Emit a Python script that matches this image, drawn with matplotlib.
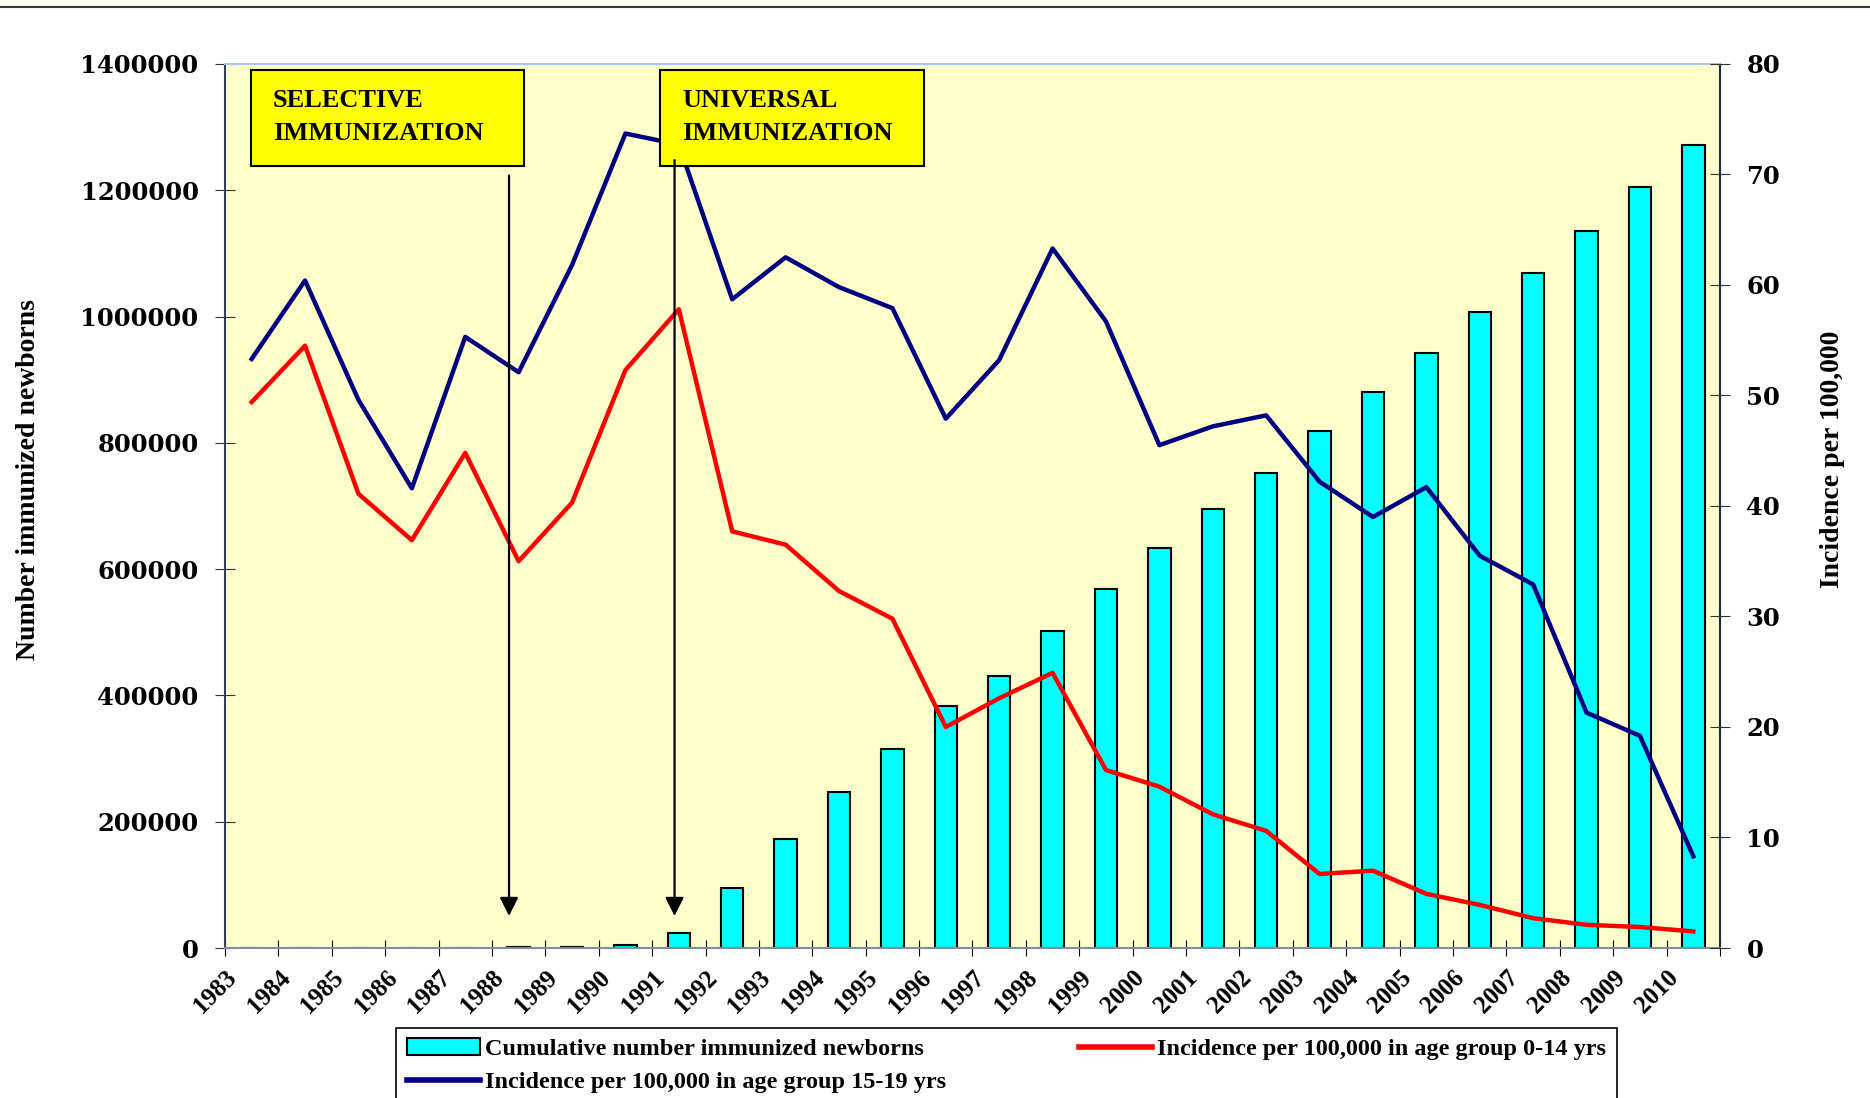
import numpy as np
import matplotlib.pyplot as plt
from matplotlib.lines import Line2D
from matplotlib.patches import Patch, Rectangle

years = list(range(1983, 2011))

# cumulative number of immunized newborns (left axis)
cumulative = [0, 0, 0, 0, 0, 2000, 2000, 5000, 24500, 94500, 172000, 247500,
              315500, 383500, 431000, 502500, 568700, 633000, 695000, 752000,
              818000, 880000, 943000, 1007000, 1069000, 1135000, 1205000, 1271000]

# incidence per 100,000 (right axis)
inc_0_14 = [49.4, 54.5, 41.1, 36.9, 44.8, 35.0, 40.3, 52.3, 57.8, 37.7, 36.5, 32.3,
            29.8, 20.0, 22.6, 24.9, 16.1, 14.6, 12.1, 10.6, 6.7, 7.0, 4.9, 3.9,
            2.7, 2.1, 1.9, 1.5]
inc_15_19 = [53.3, 60.4, 49.6, 41.6, 55.3, 52.1, 61.8, 73.7, 72.7, 58.7, 62.5, 59.8,
             57.9, 47.9, 53.2, 63.3, 56.7, 45.5, 47.2, 48.2, 42.2, 39.0, 41.7, 35.5,
             32.9, 21.3, 19.2, 8.3]

serif = 'Liberation Serif'
tickfont = 'DejaVu Serif'

fig = plt.figure(figsize=(18.7, 10.98), dpi=100)
fig.patches.append(Rectangle((0, 0.9936), 1, 0.0064, transform=fig.transFigure,
                             facecolor='#fbfbef', edgecolor='none'))
fig.add_artist(Line2D([0, 1], [0.9936, 0.9936], color='#333333', lw=1.5))

ax = fig.add_axes([0.1203, 0.1366, 0.7995, 0.8052])
ax.set_facecolor('#ffffcc')
x = np.arange(len(years)) + 0.5

ax.bar(x, cumulative, width=0.42, color='#00ffff', edgecolor='black', lw=1.5, zorder=2)
ax.set_xlim(0, len(years))
ax.set_ylim(0, 1400000)
ax.set_yticks(np.arange(0, 1400001, 200000))
ax.set_yticklabels([str(v) for v in range(0, 1400001, 200000)],
                   fontfamily=tickfont, fontweight='bold', fontsize=17.5)
ax.set_xticks(np.arange(len(years) + 1))
ax.set_xticklabels([str(y) for y in years] + [''], rotation=45, ha='right', va='top',
                   rotation_mode='anchor', fontfamily=serif, fontweight='bold', fontsize=18)
ax.tick_params(axis='x', direction='inout', length=12, pad=7, color='black')
ax.tick_params(axis='y', direction='inout', length=14, pad=12, color='#333333')
ax.set_ylabel('Number immunized newborns', fontfamily=serif, fontweight='bold',
              fontsize=20)
ax.yaxis.set_label_coords(-0.123, 0.53)

for side, c in [('left', '#2f4058'), ('bottom', '#7f8fa0'), ('top', '#a6caf0'), ('right', '#1a2a44')]:
    ax.spines[side].set_color(c)
    ax.spines[side].set_linewidth(1.5)

ax2 = ax.twinx()
ax2.set_xlim(0, len(years))
ax2.plot(x, inc_0_14, color='#ff0000', lw=3.2, zorder=3)
ax2.plot(x, inc_15_19, color='#000080', lw=3.2, zorder=3)
ax2.set_ylim(0, 80)
ax2.set_yticks(range(0, 81, 10))
ax2.set_yticklabels([str(v) for v in range(0, 81, 10)],
                    fontfamily=tickfont, fontweight='bold', fontsize=17.5)
ax2.tick_params(axis='y', direction='inout', length=14, pad=12, color='#333333')
ax2.set_ylabel('Incidence per 100,000', fontfamily=serif, fontweight='bold',
               fontsize=20)
ax2.yaxis.set_label_coords(1.067, 0.553)
for s in ax2.spines.values():
    s.set_visible(False)

# annotation boxes and arrows
box_kw = dict(fontfamily=serif, fontweight='bold', fontsize=19, va='top', ha='left',
              transform=ax2.transAxes, zorder=6, linespacing=1.55)
for (bx0, bx1), label in [((0.0176, 0.2003), 'SELECTIVE\nIMMUNIZATION'),
                          ((0.2913, 0.4677), 'UNIVERSAL\nIMMUNIZATION')]:
    ax2.add_patch(Rectangle((bx0, 0.885), bx1 - bx0, 0.108, transform=ax2.transAxes,
                            facecolor='#ffff00', edgecolor='black', lw=1.5, zorder=5))
    ax2.text(bx0 + 0.0145, 0.972, label, **box_kw)

for ax_x, y0 in [(5.32, 69.9), (8.42, 71.3)]:
    ax2.annotate('', xy=(ax_x, 2.9), xytext=(ax_x, y0),
                 arrowprops=dict(arrowstyle='-|>', color='black', lw=1.6,
                                 mutation_scale=28, shrinkA=0, shrinkB=0), zorder=7)

handles = [Patch(facecolor='#00ffff', edgecolor='black', lw=1.5),
           Line2D([], [], color='#000080', lw=4),
           Line2D([], [], color='#ff0000', lw=4)]
labels = ['Cumulative number immunized newborns',
          'Incidence per 100,000 in age group 15-19 yrs',
          'Incidence per 100,000 in age group 0-14 yrs']
leg = fig.legend(handles, labels, loc='upper left', bbox_to_anchor=(0.2117, 0.0, 0.653, 0.0642),
                 mode='expand', borderaxespad=0, ncol=2, frameon=True, fancybox=False,
                 edgecolor='black', framealpha=1, prop=dict(family=serif, weight='bold', size=17.5),
                 handlelength=3.0, handletextpad=0.2, columnspacing=3.2, borderpad=0.45,
                 labelspacing=0.45)
leg.get_frame().set_linewidth(1.2)

fig.savefig('out.png', dpi=100)
